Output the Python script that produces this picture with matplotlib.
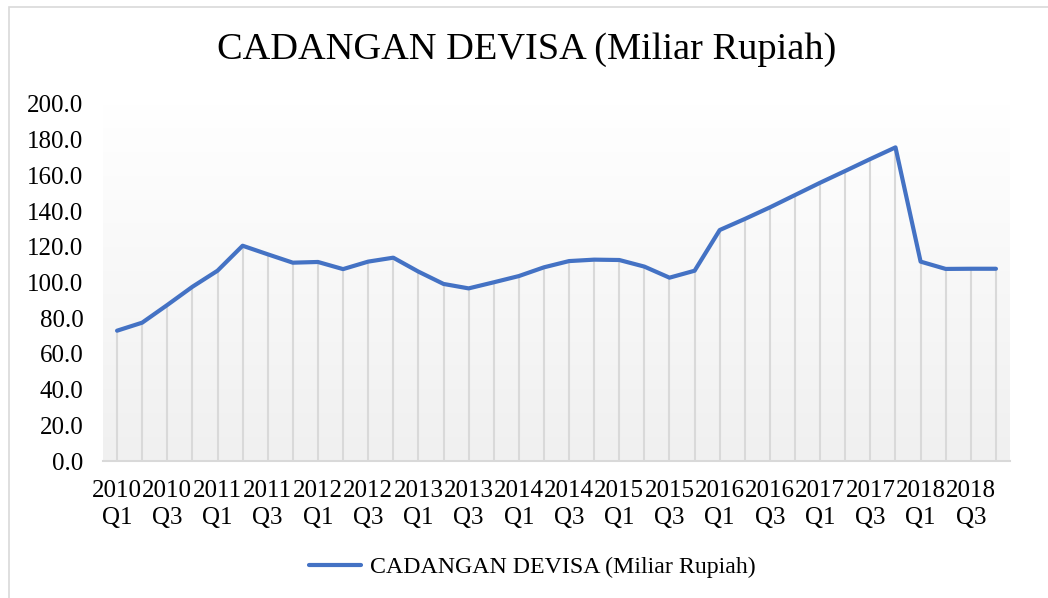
import numpy as np
import matplotlib.pyplot as plt
from matplotlib.patches import Rectangle
from matplotlib.colors import LinearSegmentedColormap

# --- data --- #
years = [2010, 2011, 2012, 2013, 2014, 2015, 2016, 2017, 2018]
quarters = ["Q1", "Q2", "Q3", "Q4"]
periods = [f"{y}\n{q}" for y in years for q in quarters]
values = [73.0, 77.5, 87.4, 97.6,
          106.6, 120.6, 115.8, 111.1,
          111.5, 107.5, 111.7, 113.9,
          106.1, 99.2, 96.7, 100.1,
          103.6, 108.5, 112.0, 112.8,
          112.6, 108.9, 102.7, 106.6,
          129.4, 135.6, 142.1, 149.0,
          155.9, 162.5, 169.2, 175.7,
          111.7, 107.6, 107.7, 107.7]
series_name = "CADANGAN DEVISA (Miliar Rupiah)"

LINE_COLOR = "#4472C4"
DROP_COLOR = "#d9d9d9"

plt.rcParams['font.family'] = ['Liberation Serif', 'DejaVu Serif']

fig = plt.figure(figsize=(10.48, 5.98), dpi=100)
# outer chart border (only left and top edges are visible in the picture)
fig.patches.append(Rectangle((9 / 1048, -0.1), 1.2, 1.1 - 7.5 / 598,
                             transform=fig.transFigure, fill=False,
                             edgecolor="#d9d9d9", linewidth=1.2))

ax = fig.add_axes([103 / 1048, 1 - 461 / 598, (1010 - 103) / 1048, (461 - 104) / 598])

x = np.arange(len(values))
x0, x1 = -0.56, len(values) - 0.44
ax.set_xlim(x0, x1)
ax.set_ylim(0, 200)

# gradient background of the plot area
grad = np.linspace(0, 1, 256).reshape(-1, 1)
ax.imshow(grad, extent=[x0, x1, 0, 200], aspect="auto",
          cmap=LinearSegmentedColormap.from_list("g", ["#f0f0f0", "#ffffff"]),
          origin="lower", zorder=0)

ax.vlines(x, 0, values, color=DROP_COLOR, linewidth=1.5, zorder=1)
ax.plot(x, values, color=LINE_COLOR, linewidth=3, solid_capstyle="round",
        solid_joinstyle="round", label=series_name, zorder=3)

ax.set_xticks(x[::2])
ax.set_xticklabels(periods[::2], fontsize=18, linespacing=1.25)
ax.set_yticks(np.arange(0, 201, 20))
ax.set_yticklabels([f"{v:.1f}" for v in np.arange(0, 201, 20)], fontsize=18)
ax.tick_params(axis="both", length=0)
ax.tick_params(axis="y", pad=14)
ax.tick_params(axis="x", pad=14)

for s in ["top", "right", "left"]:
    ax.spines[s].set_visible(False)
ax.spines["bottom"].set_color("#d9d9d9")
ax.spines["bottom"].set_linewidth(1.5)

fig.text(527 / 1048, 1 - 50 / 598, series_name, fontsize=27.6,
         ha="center", va="center")

fig.legend(loc="center", bbox_to_anchor=(532 / 1048, 1 - 567 / 598),
           frameon=False, fontsize=17.2, handlelength=2.2, handletextpad=0.35)

fig.savefig("out.png", dpi=100, facecolor="white")
